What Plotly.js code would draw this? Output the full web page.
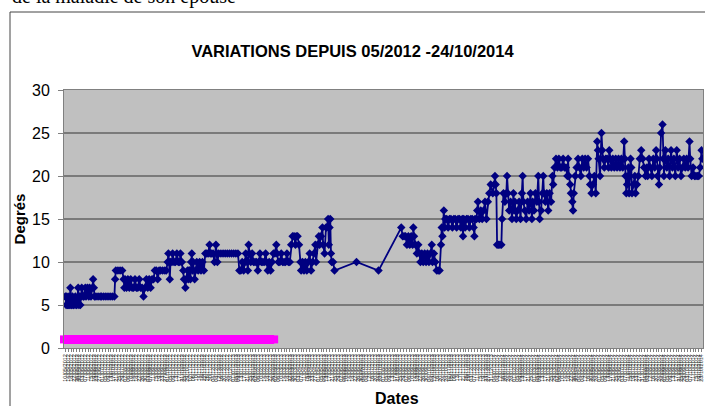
<!DOCTYPE html>
<html>
<head>
<meta charset="utf-8">
<script src="https://cdn.plot.ly/plotly-3.0.1.min.js"></script>
<style>html,body{margin:0;padding:0;background:#fff;}#chart{width:705px;height:406px;}</style>
</head>
<body>
<div id="chart"></div>
<script>
// Readings (date, degrees)
const dates = [
"2012-05-10","2012-05-11","2012-05-12","2012-05-13","2012-05-14","2012-05-15","2012-05-16","2012-05-17","2012-05-18","2012-05-19","2012-05-20","2012-05-21","2012-05-22","2012-05-24","2012-05-25","2012-05-26","2012-05-28","2012-05-29","2012-05-30","2012-05-31",
"2012-06-01","2012-06-02","2012-06-04","2012-06-05","2012-06-07","2012-06-08","2012-06-10","2012-06-12","2012-06-13","2012-06-15","2012-06-17","2012-06-18","2012-06-19","2012-06-20","2012-06-22","2012-06-25","2012-06-28","2012-06-30",
"2012-07-03","2012-07-06","2012-07-09","2012-07-12","2012-07-15","2012-07-18","2012-07-19","2012-07-20","2012-07-23","2012-07-26","2012-07-29","2012-07-31",
"2012-08-01","2012-08-02","2012-08-04","2012-08-06","2012-08-08","2012-08-10","2012-08-12","2012-08-14","2012-08-16","2012-08-18","2012-08-20","2012-08-22","2012-08-24","2012-08-26","2012-08-28","2012-08-30",
"2012-09-01","2012-09-03","2012-09-05","2012-09-07","2012-09-09","2012-09-11","2012-09-13","2012-09-15","2012-09-17","2012-09-19","2012-09-21","2012-09-24","2012-09-27","2012-09-29",
"2012-10-01","2012-10-02","2012-10-03","2012-10-04","2012-10-05","2012-10-07","2012-10-08","2012-10-10","2012-10-12","2012-10-14","2012-10-16","2012-10-18","2012-10-19","2012-10-21","2012-10-23","2012-10-24","2012-10-26","2012-10-27","2012-10-29","2012-10-30","2012-10-31",
"2012-11-01","2012-11-02","2012-11-03","2012-11-04","2012-11-05","2012-11-06","2012-11-08","2012-11-09","2012-11-11","2012-11-13","2012-11-15","2012-11-17","2012-11-19","2012-11-21","2012-11-23","2012-11-25","2012-11-27","2012-11-29","2012-11-30",
"2012-12-02","2012-12-04","2012-12-06","2012-12-08","2012-12-09","2012-12-10","2012-12-12","2012-12-15","2012-12-18","2012-12-21","2012-12-24","2012-12-27","2012-12-30",
"2013-01-02","2013-01-05","2013-01-08","2013-01-10","2013-01-12","2013-01-14","2013-01-16","2013-01-18","2013-01-19","2013-01-21","2013-01-22","2013-01-23","2013-01-24","2013-01-26","2013-01-28","2013-01-30",
"2013-02-01","2013-02-03","2013-02-05","2013-02-06","2013-02-08","2013-02-10","2013-02-12","2013-02-14","2013-02-16","2013-02-17","2013-02-19","2013-02-21","2013-02-23","2013-02-25","2013-02-27",
"2013-03-01","2013-03-03","2013-03-04","2013-03-06","2013-03-08","2013-03-10","2013-03-12","2013-03-14","2013-03-16","2013-03-18","2013-03-20","2013-03-22","2013-03-24","2013-03-26","2013-03-28","2013-03-30","2013-03-31",
"2013-04-02","2013-04-04","2013-04-06","2013-04-07","2013-04-09","2013-04-11","2013-04-13","2013-04-15","2013-04-17","2013-04-19","2013-04-21","2013-04-23","2013-04-25","2013-04-27","2013-04-28","2013-04-30",
"2013-05-02","2013-05-03","2013-05-05","2013-05-07","2013-05-08","2013-05-10","2013-05-12","2013-05-13","2013-05-15","2013-05-16","2013-05-17","2013-05-18","2013-05-19","2013-05-20","2013-05-22","2013-05-24",
"2013-06-24","2013-07-25",
"2013-08-26","2013-08-28","2013-08-30",
"2013-09-01","2013-09-03","2013-09-05","2013-09-07","2013-09-09","2013-09-11","2013-09-12","2013-09-13","2013-09-15","2013-09-17","2013-09-19","2013-09-21","2013-09-22","2013-09-24","2013-09-26","2013-09-28","2013-09-30",
"2013-10-02","2013-10-04","2013-10-06","2013-10-08","2013-10-09","2013-10-11","2013-10-13","2013-10-15","2013-10-17","2013-10-19","2013-10-21","2013-10-22","2013-10-23","2013-10-25","2013-10-26","2013-10-27","2013-10-29","2013-10-31",
"2013-11-02","2013-11-04","2013-11-06","2013-11-08","2013-11-10","2013-11-12","2013-11-14","2013-11-16","2013-11-18","2013-11-20","2013-11-21","2013-11-22","2013-11-24","2013-11-26","2013-11-28","2013-11-30",
"2013-12-02","2013-12-04","2013-12-06","2013-12-07","2013-12-08","2013-12-10","2013-12-11","2013-12-12","2013-12-14","2013-12-16","2013-12-18","2013-12-20","2013-12-22","2013-12-24","2013-12-26","2013-12-28","2013-12-30",
"2014-01-02","2014-01-04","2014-01-05","2014-01-06","2014-01-07","2014-01-08","2014-01-10","2014-01-12","2014-01-14","2014-01-15","2014-01-17","2014-01-19","2014-01-21","2014-01-22","2014-01-23","2014-01-25","2014-01-27","2014-01-29","2014-01-31",
"2014-02-01","2014-02-02","2014-02-04","2014-02-06","2014-02-08","2014-02-10","2014-02-12","2014-02-13","2014-02-14","2014-02-16","2014-02-18","2014-02-20","2014-02-22","2014-02-24","2014-02-26","2014-02-27",
"2014-03-01","2014-03-03","2014-03-05","2014-03-07","2014-03-08","2014-03-09","2014-03-11","2014-03-13","2014-03-14","2014-03-15","2014-03-17","2014-03-19","2014-03-21","2014-03-23","2014-03-25","2014-03-27","2014-03-28","2014-03-30",
"2014-04-01","2014-04-03","2014-04-05","2014-04-07","2014-04-09","2014-04-11","2014-04-13","2014-04-15","2014-04-17","2014-04-18","2014-04-19","2014-04-21","2014-04-22","2014-04-24","2014-04-25","2014-04-26","2014-04-28","2014-04-30",
"2014-05-02","2014-05-04","2014-05-06","2014-05-08","2014-05-10","2014-05-12","2014-05-14","2014-05-16","2014-05-18","2014-05-19","2014-05-21","2014-05-23","2014-05-25","2014-05-27","2014-05-29","2014-05-30","2014-05-31",
"2014-06-02","2014-06-04","2014-06-05","2014-06-06","2014-06-08","2014-06-10","2014-06-12","2014-06-14","2014-06-15","2014-06-16","2014-06-18","2014-06-20","2014-06-22","2014-06-24","2014-06-26","2014-06-28","2014-06-30",
"2014-07-02","2014-07-04","2014-07-06","2014-07-07","2014-07-08","2014-07-09","2014-07-10","2014-07-12","2014-07-13","2014-07-14","2014-07-15","2014-07-16","2014-07-17","2014-07-19","2014-07-21","2014-07-22","2014-07-24","2014-07-26","2014-07-28","2014-07-30",
"2014-08-01","2014-08-03","2014-08-05","2014-08-07","2014-08-08","2014-08-10","2014-08-12","2014-08-14","2014-08-16","2014-08-18","2014-08-20","2014-08-21","2014-08-22","2014-08-24","2014-08-25","2014-08-27","2014-08-29","2014-08-30","2014-08-31",
"2014-09-02","2014-09-04","2014-09-06","2014-09-08","2014-09-10","2014-09-12","2014-09-14","2014-09-16","2014-09-18","2014-09-20","2014-09-22","2014-09-24","2014-09-26","2014-09-28","2014-09-30",
"2014-10-02","2014-10-04","2014-10-06","2014-10-07","2014-10-09","2014-10-11","2014-10-13","2014-10-15","2014-10-17","2014-10-19","2014-10-21","2014-10-23","2014-10-24"
];
const degres = [
6,5,6,5,5,6,5,7,5,5,6,5,5,6,5,5,7,5,6,5,
6,7,6,6,7,6,7,6,7,6,7,8,7,6,6,6,6,6,
6,6,6,6,6,6,8,9,9,9,9,8,
7,8,7,8,7,8,7,7,8,7,7,8,7,7,6,7,
8,7,8,7,8,8,9,9,8,9,9,9,9,9,
10,11,10,8,10,10,11,10,10,11,10,10,11,10,9,8,7,8,9,8,9,
9,8,10,11,9,10,8,9,10,9,10,9,10,9,11,11,11,12,11,
11,11,10,12,11,10,11,11,11,11,11,11,11,
11,11,11,9,9,10,9,10,11,10,9,12,11,10,11,10,
10,10,9,10,11,10,10,10,11,10,9,10,9,10,11,
11,12,11,10,10,11,10,10,10,11,10,10,12,13,13,12,13,
13,12,10,9,10,9,10,9,10,11,9,10,11,12,10,12,
13,12,13,14,12,11,14,14,15,12,14,15,11,10,10,9,
10,9,
14,13,13,
13,12,13,12,13,12,14,13,12,11,12,11,10,11,10,11,10,
11,10,11,12,10,11,10,9,9,9,12,14,13,16,14,15,15,14,
15,15,14,15,15,14,15,15,14,15,13,15,14,15,15,14,
15,15,14,13,15,15,16,17,15,16,15,16,17,15,17,18,19,
18,19,20,19,18,12,12,12,12,15,18,17,18,20,18,16,17,15,18,
16,17,15,16,17,15,18,20,17,16,15,17,16,18,15,17,
16,18,17,20,17,15,16,18,20,18,17,18,16,18,17,20,19,21,
22,21,22,21,21,22,21,21,20,22,20,19,18,17,16,18,20,21,
22,21,20,22,21,22,21,22,20,19,18,19,20,18,24,23,22,
20,25,23,22,21,22,22,21,23,22,21,22,21,22,21,22,21,
22,21,24,22,20,18,19,21,18,20,22,21,18,19,20,18,19,20,22,23,
22,21,20,21,20,22,21,20,22,21,23,22,20,19,21,25,26,22,20,
23,21,22,20,23,21,22,20,23,21,22,20,21,22,21,
22,21,24,22,20,21,20,20,20,20,21,23,22
];
// Pink reference band (value 1) over the first period
const bandDates = ["2012-05-08", "2013-02-28"];
const bandValues = [1, 1];

const traces = [
  {
    x: bandDates, y: bandValues, type: "scatter", mode: "lines+markers",
    line: {color: "#FF00FF", width: 9},
    marker: {symbol: "square", size: 8, color: "#FF00FF"},
    cliponaxis: false, hoverinfo: "skip", showlegend: false
  },
  {
    x: dates, y: degres, type: "scatter", mode: "lines+markers",
    line: {color: "#000080", width: 1.8},
    marker: {symbol: "diamond", size: 6.5, color: "#000080"},
    showlegend: false
  }
];

const layout = {
  width: 705, height: 406,
  margin: {l: 64, r: 2, t: 90, b: 58},
  paper_bgcolor: "#FFFFFF",
  plot_bgcolor: "#C0C0C0",
  font: {family: "Liberation Sans, Arial, sans-serif", color: "#000"},
  title: {
    text: "<b>VARIATIONS DEPUIS 05/2012 -24/10/2014</b>",
    font: {size: 16.5, color: "#000"},
    x: 0.5, xref: "container", xanchor: "center",
    y: 0.875, yref: "container", yanchor: "middle"
  },
  xaxis: {
    type: "date",
    range: ["2012-05-08", "2014-10-25"],
    tickmode: "linear",
    tick0: "2012-05-10",
    dtick: 4 * 86400000,
    tickformat: "%d/%m/%Y",
    tickangle: -90,
    tickfont: {size: 5.5, color: "#222"},
    ticks: "outside", ticklen: 3, tickcolor: "#808080",
    showgrid: false, zeroline: false,
    showline: true, linecolor: "#808080", linewidth: 1, mirror: true
  },
  yaxis: {
    range: [0, 30], dtick: 5, tick0: 0,
    tickfont: {size: 16, color: "#000"},
    ticks: "outside", ticklen: 5, tickcolor: "#808080",
    ticklabelstandoff: 5,
    showgrid: true, gridcolor: "#7a7a7a", gridwidth: 1.3,
    zeroline: false,
    showline: true, linecolor: "#808080", linewidth: 1, mirror: true,
    title: {text: "<b>Degrés</b>", font: {size: 15, color: "#000"}, standoff: 2}
  },
  annotations: [
    {
      text: "<b>Dates</b>", xref: "paper", yref: "paper", x: 0.521, y: -0.195,
      xanchor: "center", yanchor: "middle", showarrow: false,
      font: {size: 16, color: "#000"}
    },
    {
      text: "de la maladie de son épouse", xref: "paper", yref: "paper",
      x: -0.0845, y: 1.312, xanchor: "left", yanchor: "bottom", showarrow: false,
      font: {family: "Liberation Serif, Times New Roman, serif", size: 20, color: "#000"}
    }
  ],
  shapes: [
    {type: "line", xref: "paper", yref: "paper", x0: -0.0845, x1: 1.01, y0: 1.3023, y1: 1.3023,
     line: {color: "#444", width: 1}},
    {type: "line", xref: "paper", yref: "paper", x0: -0.0845, x1: -0.0845, y0: 1.3023, y1: -0.3,
     line: {color: "#444", width: 1}}
  ]
};

Plotly.newPlot("chart", traces, layout, {displayModeBar: false, staticPlot: true});
</script>
</body>
</html>
